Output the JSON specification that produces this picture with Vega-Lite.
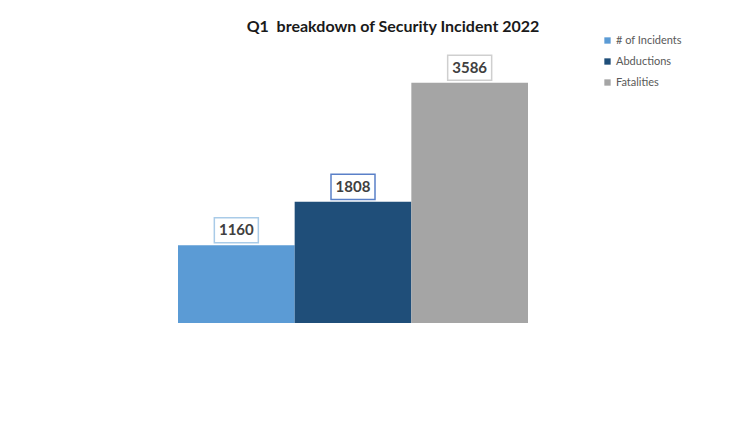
{
  "$schema": "https://vega.github.io/schema/vega-lite/v6.json",
  "autosize": "none",
  "width": 350,
  "height": 268,
  "padding": {"left": 178, "top": 55, "right": 221, "bottom": 122},
  "background": "#ffffff",
  "config": {"view": {"stroke": null}},
  "title": {
    "text": "Q1\u00a0 breakdown of Security Incident 2022",
    "font": "Lato",
    "fontSize": 16,
    "fontWeight": "bold",
    "color": "#1a1a1a",
    "anchor": "middle",
    "offset": 0,
    "dx": 40
  },
  "data": {
    "values": [
      {"category": "# of Incidents", "value": 1160, "box": "#a9cbe8"},
      {"category": "Abductions", "value": 1808, "box": "#5a80c8"},
      {"category": "Fatalities", "value": 3586, "box": "#cfcfcf"}
    ]
  },
  "encoding": {
    "x": {
      "field": "category",
      "type": "nominal",
      "sort": ["# of Incidents", "Abductions", "Fatalities"],
      "scale": {"paddingInner": 0, "paddingOuter": 0},
      "axis": null
    },
    "y": {
      "field": "value",
      "type": "quantitative",
      "scale": {"domain": [0, 4000], "nice": false},
      "axis": null
    }
  },
  "layer": [
    {
      "mark": {"type": "bar"},
      "encoding": {
        "color": {
          "field": "category",
          "type": "nominal",
          "sort": ["# of Incidents", "Abductions", "Fatalities"],
          "scale": {
            "domain": ["# of Incidents", "Abductions", "Fatalities"],
            "range": ["#5b9bd5", "#1f4e79", "#a5a5a5"]
          },
          "legend": {
            "title": null,
            "orient": "none",
            "legendX": 424,
            "legendY": -20,
            "symbolType": "square",
            "symbolSize": 40,
            "symbolStrokeWidth": 0,
            "labelFont": "Lato",
            "labelFontSize": 11,
            "labelColor": "#595959",
            "rowPadding": 9,
            "labelOffset": 3
          }
        }
      }
    },
    {
      "mark": {
        "type": "point",
        "shape": "M-1,-0.57H1V0.57H-1Z",
        "size": 1936,
        "filled": false,
        "fill": "#ffffff",
        "fillOpacity": 1,
        "strokeWidth": 1.5,
        "opacity": 1,
        "yOffset": -15
      },
      "encoding": {
        "stroke": {"field": "box", "type": "nominal", "scale": null}
      }
    },
    {
      "mark": {
        "type": "text",
        "font": "Lato",
        "fontSize": 15,
        "fontWeight": "bold",
        "color": "#404040",
        "baseline": "middle",
        "dy": -15
      },
      "encoding": {
        "text": {"field": "value", "type": "quantitative", "format": "d"}
      }
    }
  ]
}
